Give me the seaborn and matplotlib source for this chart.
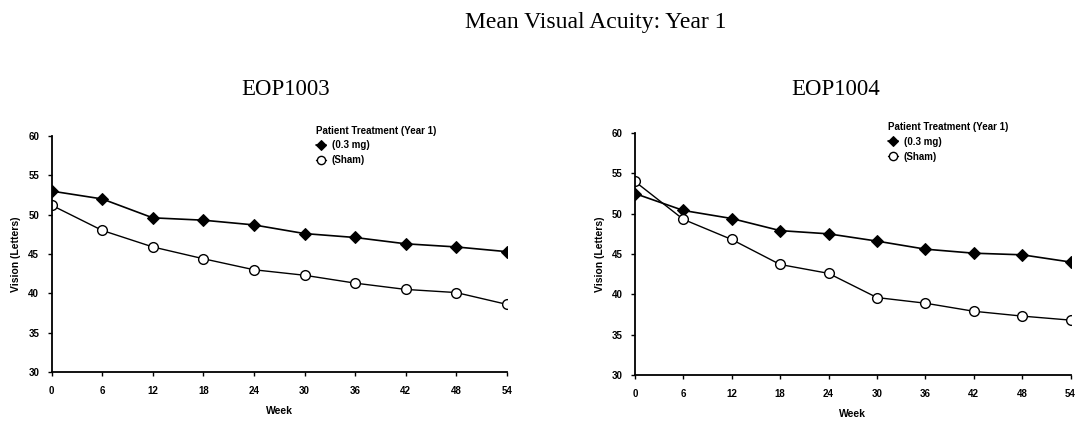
import matplotlib
matplotlib.use("Agg")
import matplotlib.pyplot as plt
import seaborn as sns
import pandas as pd

weeks = [0, 6, 12, 18, 24, 30, 36, 42, 48, 54]
eop1003_drug = [53.0, 52.0, 49.6, 49.3, 48.7, 47.6, 47.1, 46.3, 45.9, 45.3]
eop1003_sham = [51.2, 48.0, 45.9, 44.4, 43.0, 42.3, 41.3, 40.5, 40.1, 38.6]
eop1004_drug = [52.5, 50.4, 49.4, 47.9, 47.5, 46.6, 45.6, 45.1, 44.9, 44.0]
eop1004_sham = [54.0, 49.3, 46.8, 43.7, 42.6, 39.6, 38.9, 37.9, 37.3, 36.8]
series_labels = ["(0.3 mg)", "(Sham)"]
panel_titles = ["EOP1003", "EOP1004"]
yticks = [30, 35, 40, 45, 50, 55, 60]

sns.set_theme(style="white")
plt.rcParams['font.family'] = ['Liberation Sans', 'DejaVu Sans']
plt.rcParams.update({"text.color": "black", "axes.labelcolor": "black",
                     "xtick.color": "black", "ytick.color": "black"})

fig = plt.figure(figsize=(10.76, 4.24), dpi=100)
axes = [fig.add_axes([0.048, 0.1226, 0.423, 0.5566]),
        fig.add_axes([0.590, 0.1156, 0.405, 0.5707])]

fig.text(0.554, 0.948, "Mean Visual Acuity: Year 1", ha="center", va="center",
         family="Liberation Serif", fontsize=17, color="black")

panels = [(eop1003_drug, eop1003_sham), (eop1004_drug, eop1004_sham)]
title_x = [0.265, 0.777]
for ax, (drug, sham), title, tx in zip(axes, panels, panel_titles, title_x):
    df_d = pd.DataFrame({"Week": weeks, "Vision": drug})
    df_s = pd.DataFrame({"Week": weeks, "Vision": sham})
    sns.lineplot(data=df_d, x="Week", y="Vision", ax=ax, color="black", lw=1.2,
                 marker="D", markersize=6, markerfacecolor="black",
                 markeredgecolor="black", label=series_labels[0])
    sns.lineplot(data=df_s, x="Week", y="Vision", ax=ax, color="black", lw=1.0,
                 marker="o", markersize=7, markerfacecolor="white",
                 markeredgecolor="black", markeredgewidth=1.0, label=series_labels[1])
    ax.set_xlim(0, 54)
    ax.set_ylim(30, 60)
    ax.set_xticks(weeks)
    ax.set_yticks(yticks)
    ax.tick_params(axis="x", labelsize=7, length=3, width=1, direction="out",
                   bottom=True, pad=7)
    ax.tick_params(axis="y", labelsize=7, length=3, width=1, direction="out",
                   left=True, pad=6)
    for lab in ax.get_xticklabels() + ax.get_yticklabels():
        lab.set_fontweight("bold")
    ax.set_xlabel("Week", fontsize=7.5, fontweight="bold", labelpad=7)
    ax.set_ylabel("Vision (Letters)", fontsize=7.5, fontweight="bold", labelpad=5)
    sns.despine(ax=ax)
    for sp in ["left", "bottom"]:
        ax.spines[sp].set_color("black")
        ax.spines[sp].set_linewidth(1.3)
    ax.grid(False)
    leg = ax.legend(title="Patient Treatment (Year 1)", frameon=False,
                    loc="upper left", bbox_to_anchor=(0.573, 1.06),
                    prop={"weight": "bold", "size": 7},
                    title_fontproperties={"weight": "bold", "size": 7},
                    handlelength=1.0, handletextpad=0.6, labelspacing=0.55,
                    borderaxespad=0, markerscale=0.85)
    leg._legend_box.align = "left"
    leg._legend_box.sep = 3
    fig.text(tx, 0.79, title, ha="center", va="center",
             family="Liberation Serif", fontsize=16.5, color="black")

fig.savefig("out.png", dpi=100, facecolor="white")
